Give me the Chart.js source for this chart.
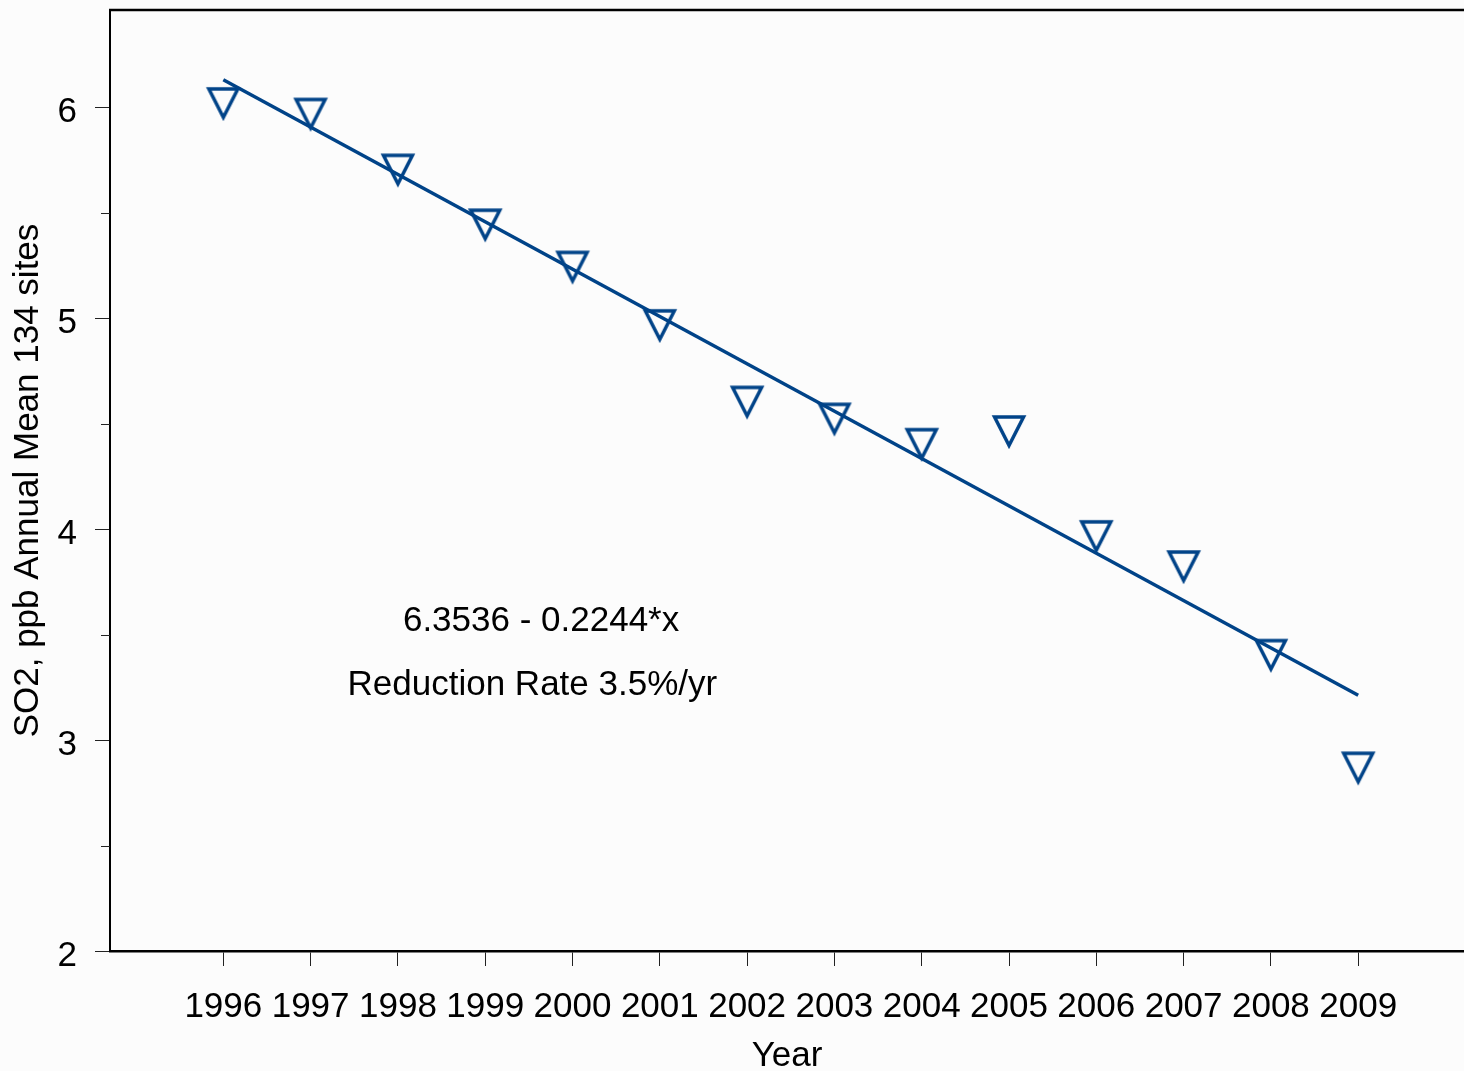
<!DOCTYPE html>
<html>
<head>
<meta charset="utf-8">
<title>SO2 Annual Mean, 134 sites</title>
<script src="https://cdn.jsdelivr.net/npm/chart.js@4/dist/chart.umd.min.js"></script>
<style>
  html, body { margin: 0; padding: 0; background: #fcfcfc; overflow: hidden; }
  canvas { display: block; }
</style>
</head>
<body>
<canvas id="c" width="1464" height="1071"></canvas>
<script>
// Annual mean SO2 (ppb) across 134 sites
const years = [1996, 1997, 1998, 1999, 2000, 2001, 2002, 2003, 2004, 2005, 2006, 2007, 2008, 2009];
const so2 = [6.015, 5.965, 5.70, 5.44, 5.24, 4.963, 4.60, 4.52, 4.40, 4.46, 3.963, 3.82, 3.40, 2.866];

// Linear fit as printed on the chart: 6.3536 - 0.2244*x, x = 1 for 1996
const fitIntercept = 6.3536;
const fitSlope = -0.2244;
const fitYears = [1996, 2009];

const yTickValues = [2, 3, 4, 5, 6];
const yMinorTickValues = [2.5, 3.5, 4.5, 5.5];
const annotationLines = ['6.3536 - 0.2244*x', 'Reduction Rate 3.5%/yr'];

const BLUE = '#004388';
const FONT = "'Liberation Sans', Arial, sans-serif";
const FONT_SIZE = 35;

const fitValue = yr => fitIntercept + fitSlope * (yr - years[0] + 1);

// open downward triangle marker, centred on its bounding box
function makeTriangle() {
  const c = document.createElement('canvas');
  c.width = 46; c.height = 46;
  const g = c.getContext('2d');
  g.translate(23, 23);
  g.strokeStyle = BLUE;
  g.lineWidth = 3.5;
  g.lineJoin = 'miter';
  g.beginPath();
  g.moveTo(-14.5, -15);
  g.lineTo(14.5, -15);
  g.lineTo(0, 13.5);
  g.closePath();
  g.stroke();
  return c;
}

// keep the plot frame exactly where the axes put it
function noScalePadding(s) {
  s.paddingTop = 0;
  s.paddingBottom = 0;
  s.paddingLeft = 0;
  s.paddingRight = 0;
}

const decorations = {
  id: 'decorations',
  beforeDraw(chart) {
    const ctx = chart.ctx;
    ctx.save();
    ctx.fillStyle = '#fcfcfc';
    ctx.fillRect(0, 0, chart.width, chart.height);
    ctx.restore();
  },
  afterDraw(chart) {
    const ctx = chart.ctx;
    const area = chart.chartArea;
    const y = chart.scales.y;
    const x = chart.scales.x;
    ctx.save();
    // top frame line
    ctx.strokeStyle = '#000';
    ctx.lineWidth = 2.5;
    ctx.beginPath();
    ctx.moveTo(area.left - 1, area.top);
    ctx.lineTo(chart.width, area.top);
    ctx.stroke();
    // minor ticks on the value axis
    ctx.strokeStyle = '#222';
    ctx.lineWidth = 1;
    yMinorTickValues.forEach(v => {
      const py = Math.round(y.getPixelForValue(v)) + 0.5;
      ctx.beginPath();
      ctx.moveTo(area.left - 9, py);
      ctx.lineTo(area.left, py);
      ctx.stroke();
    });
    // fit equation and rate
    ctx.fillStyle = '#000';
    ctx.font = FONT_SIZE + 'px ' + FONT;
    ctx.textAlign = 'center';
    ctx.textBaseline = 'alphabetic';
    ctx.fillText(annotationLines[0], x.getPixelForValue(1999.64), y.getPixelForValue(3.515));
    ctx.fillText(annotationLines[1], x.getPixelForValue(1999.54), y.getPixelForValue(3.215));
    ctx.restore();
  }
};

new Chart(document.getElementById('c'), {
  type: 'scatter',
  data: {
    datasets: [
      {
        label: 'SO2',
        data: years.map((yr, i) => ({ x: yr, y: so2[i] })),
        pointStyle: makeTriangle(),
        pointRadius: 16,
        pointHoverRadius: 16,
        showLine: false,
        order: 1
      },
      {
        label: 'Fit',
        type: 'line',
        data: fitYears.map(yr => ({ x: yr, y: fitValue(yr) })),
        borderColor: BLUE,
        borderWidth: 3.5,
        pointRadius: 0,
        fill: false,
        order: 2
      }
    ]
  },
  options: {
    responsive: false,
    animation: false,
    devicePixelRatio: 1,
    layout: { autoPadding: false, padding: { top: 10, left: 0, right: 0, bottom: 0 } },
    plugins: {
      legend: { display: false },
      tooltip: { enabled: false }
    },
    scales: {
      x: {
        type: 'linear',
        min: 1994.702,
        max: 2010.212,
        afterBuildTicks: s => { s.ticks = years.map(v => ({ value: v })); },
        afterFit: s => { s.height = 120; noScalePadding(s); },
        border: { display: true, color: '#000', width: 2.5 },
        grid: { display: true, drawOnChartArea: false, drawTicks: true, tickLength: 15, tickColor: '#222', tickWidth: 1 },
        ticks: {
          color: '#000',
          font: { family: FONT, size: FONT_SIZE, lineHeight: 1.2 },
          padding: 20,
          maxRotation: 0,
          autoSkip: false,
          callback: v => String(v)
        },
        title: {
          display: true,
          text: 'Year',
          color: '#000',
          font: { family: FONT, size: FONT_SIZE, lineHeight: 0.85 },
          padding: { top: 0, bottom: 0 }
        }
      },
      y: {
        type: 'linear',
        min: 2,
        max: 6.46,
        afterBuildTicks: s => { s.ticks = yTickValues.map(v => ({ value: v })); },
        afterFit: s => { s.width = 110; noScalePadding(s); },
        border: { display: true, color: '#000', width: 2 },
        grid: { display: true, drawOnChartArea: false, drawTicks: true, tickLength: 15, tickColor: '#222', tickWidth: 1 },
        ticks: {
          color: '#000',
          font: { family: FONT, size: FONT_SIZE },
          padding: 18,
          labelOffset: 5,
          callback: v => String(v)
        },
        title: {
          display: true,
          text: 'SO2, ppb Annual Mean 134 sites',
          color: '#000',
          font: { family: FONT, size: FONT_SIZE, lineHeight: 1.2 },
          padding: { top: 7, bottom: 0 }
        }
      }
    }
  },
  plugins: [decorations]
});
</script>
</body>
</html>
